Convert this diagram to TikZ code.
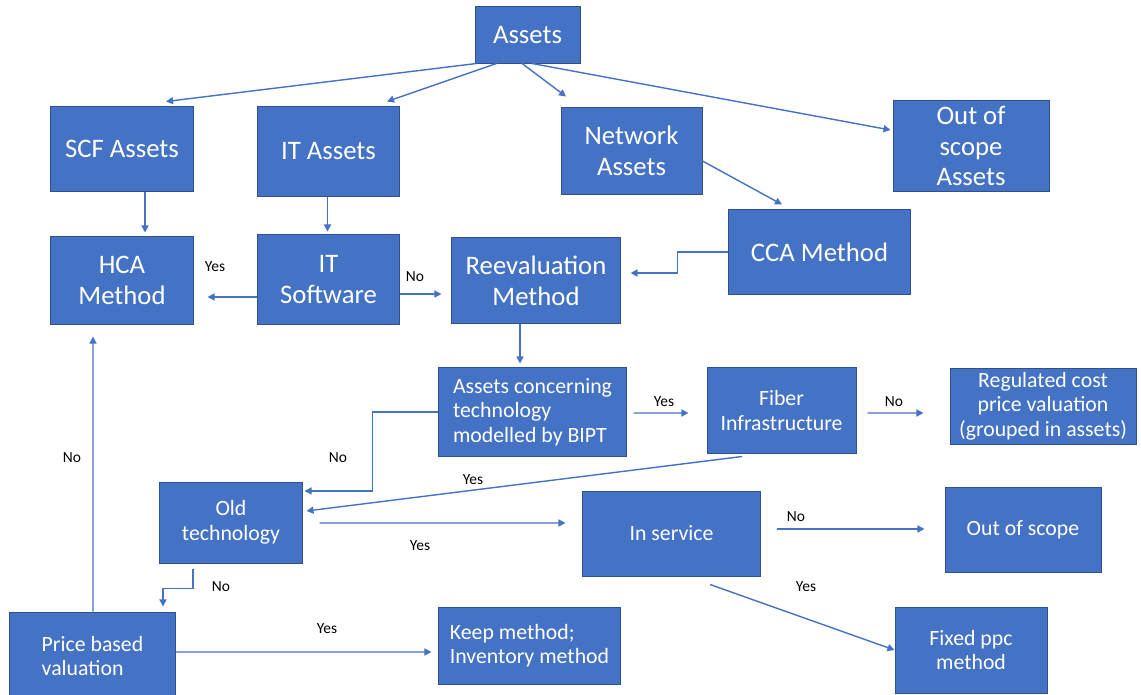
\documentclass[tikz,border=0pt]{standalone}
\usepackage{fontspec}
\setmainfont{Carlito}
\usetikzlibrary{arrows.meta,calc}
\definecolor{boxblue}{HTML}{4472C4}
\definecolor{boxedge}{HTML}{2F528F}
\tikzstyle{box}=[rectangle, fill=boxblue, draw=boxedge, line width=0.7pt, text=white, inner sep=0pt, align=center, font=\fontsize{19}{22}\selectfont]
\tikzstyle{small_box}=[box, font=\fontsize{15.5}{17.5}\selectfont]
\tikzstyle{flow}=[draw=boxblue, line width=1pt, -{Triangle[length=5pt,width=5pt]}]
\tikzstyle{answer}=[font=\fontsize{11}{13}\selectfont, text=black, inner sep=0pt]

\begin{document}
\begin{tikzpicture}[x=0.025cm, y=-0.025cm]
    \useasboundingbox (0,0) rectangle (1141,695);

    \node (assets)   at (527.5,  35)   [box, minimum width=2.625cm, minimum height=1.4cm] {Assets};
    \node (scf)      at (122,    149)  [box, minimum width=3.55cm,  minimum height=2.1cm] {SCF Assets};
    \node (itassets) at (328.5,  151.5)[box, minimum width=3.525cm, minimum height=2.225cm] {IT Assets};
    \node (network)  at (631.5,  151)  [box, minimum width=3.525cm, minimum height=2.15cm] {Network\\Assets};
    \node (oosa)     at (971,    146)  [box, minimum width=3.9cm,   minimum height=2.25cm] {Out of\\scope\\Assets};
    \node (cca)      at (819.5,  252)  [box, minimum width=4.525cm, minimum height=2.1cm] {CCA Method};
    \node (hca)      at (122,    280.5)[box, minimum width=3.55cm,  minimum height=2.175cm] {HCA\\Method};
    \node (itsw)     at (328.5,  279.5)[box, minimum width=3.525cm, minimum height=2.225cm] {IT\\Software};
    \node (reev)     at (536,    280.5)[box, minimum width=4.2cm,   minimum height=2.125cm] {Reevaluation\\Method};
    \node (concern)  at (532.5,  412)  [small_box, minimum width=4.675cm, minimum height=2.2cm, align=left] {Assets concerning\\technology\\modelled by BIPT};
    \node (fiber)    at (781.5,  410.5)[small_box, minimum width=3.725cm, minimum height=2.125cm] {Fiber\\Infrastructure};
    \node (reg)      at (1043,   406)  [small_box, minimum width=4.65cm,  minimum height=1.9cm] {Regulated cost\\price valuation\\(grouped in assets)};
    \node (old)      at (231,    522.5)[small_box, minimum width=3.55cm,  minimum height=2.025cm] {Old\\technology};
    \node (insvc)    at (671.5,  533.5)[small_box, minimum width=4.425cm, minimum height=2.125cm] {In service};
    \node (oos)      at (1023,   529.5)[small_box, minimum width=3.9cm,   minimum height=2.125cm] {Out of scope};
    \node (price)    at (92.5,   656)  [small_box, minimum width=4.125cm, minimum height=2.2cm, align=left] {Price based\\valuation};
    \node (keep)     at (529.5,  645.5)[small_box, minimum width=4.525cm, minimum height=1.925cm, align=left] {Keep method;\\Inventory method};
    \node (fixed)    at (971,    650)  [small_box, minimum width=3.8cm,   minimum height=2.15cm] {Fixed ppc\\method};

    \draw ($(assets.south west)+(2,0)$) -- ($(scf.north)+(44,-5)$) [flow];
    \draw ($(assets.south west)+(22,0)$) -- ($(itassets.north)+(58.5,-5)$) [flow];
    \draw ($(assets.south)+(-5.5,0)$) -- ($(network.north)+(-65.5,-11)$) [flow];
    \draw ($(assets.south)+(4.5,0)$) -- ($(oosa.west)+(-2,-16)$) [flow];

    \draw ($(network.east)+(0,10)$) -- ($(cca.north)+(-37.5,-5)$) [flow];
    \draw ($(scf.south)+(23,0)$) -- ($(hca.north)+(23,-4)$) [flow];
    \draw ($(itassets.south)+(-1,0)$) -- ($(itsw.north)+(-1,-3)$) [flow];

    \draw ($(itsw.west)+(0,17.5)$) -- ($(hca.east)+(14,16.5)$) [flow];
    \draw ($(itsw.east)+(0,14.5)$) -- ($(reev.west)+(-10,13.5)$) [flow];
    \draw (cca.west) -- ++(-51,0) |- ($(reev.east)+(10,-7.5)$) [flow];

    \draw ($(reev.south)+(-16,0)$) -- ($(concern.north)+(-12.5,-4)$) [flow];
    \draw ($(concern.east)+(7,1)$) -- ($(fiber.west)+(-18,2.5)$) [flow];
    \draw ($(fiber.east)+(11,2.5)$) -- ($(reg.west)+(-26,7)$) [flow];
    \draw (concern.west) -- ++(-66,0) |- ($(old.east)+(2,-31.5)$) [flow];
    \draw ($(fiber.south)+(-39.5,3)$) -- ($(old.east)+(4,-11.5)$) [flow];

    \draw ($(old.east)+(17,0.5)$) -- ($(insvc.west)+(-17,-10.5)$) [flow];
    \draw ($(insvc.east)+(16,-4.5)$) -- ($(oos.west)+(-20,-0.5)$) [flow];
    \draw ($(insvc.south)+(38.5,8)$) -- (fixed.west) [flow];
    \draw ($(old.south)+(-38,5)$) -- ++(0,20) -| ($(price.north)+(70.5,-5)$) [flow];

    \draw ($(price.north)+(0.5,0)$) -- ($(hca.south)+(-29,12)$) [flow];
    \draw ($(price.east)+(0,-4)$) -- ($(keep.west)+(-7,6.5)$) [flow];

    \node (yes_hca)   at (215, 267) [answer] {Yes};
    \node (no_reev)   at (415, 277) [answer] {No};
    \node (yes_fiber) at (664, 402) [answer] {Yes};
    \node (no_reg)    at (894, 402) [answer] {No};
    \node (no_old)    at (338, 458) [answer] {No};
    \node (yes_old)   at (473, 480) [answer] {Yes};
    \node (yes_insvc) at (420, 546) [answer] {Yes};
    \node (no_oos)    at (796, 517) [answer] {No};
    \node (yes_fixed) at (806, 587) [answer] {Yes};
    \node (no_price)  at (221, 587) [answer] {No};
    \node (no_hca)    at (72,  458) [answer] {No};
    \node (yes_keep)  at (327, 629) [answer] {Yes};
  \end{tikzpicture}
\end{document}
